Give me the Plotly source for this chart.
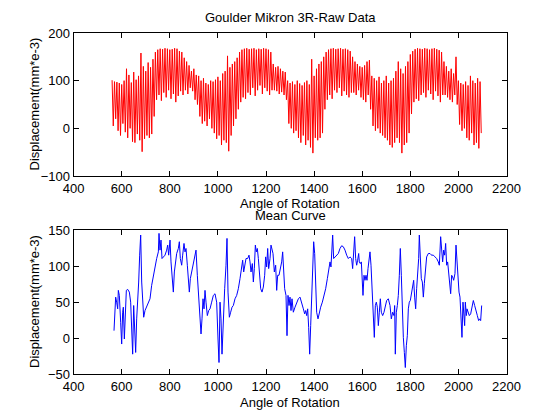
import plotly.graph_objects as go

# ---------------- data ----------------
raw_angle_start = 560
raw_angle_step = 5
raw_peaks = [
    101, 98, 97, 95, 92, 100, 125, 112, 96, 118, 102, 110,
    158,
    130, 120, 138, 128, 145,
    160, 165, 167, 166, 168, 167, 165, 166, 168, 167, 162, 160,
    148, 140, 132, 120, 125, 112,
    110, 100, 105, 95, 92, 100,
    98, 102, 108, 100, 115, 120, 152, 128, 135, 140, 148,
    160, 165, 167, 168, 166, 167, 168, 165, 167, 166, 168, 167, 165, 160,
    135, 128, 130, 125, 120, 118,
    100, 95, 98, 92, 100, 94, 90, 96, 100, 92, 145, 110, 125, 135, 140,
    150, 160, 165, 167, 168, 166, 167, 168, 166, 167, 165, 162,
    150, 140, 135, 130, 128, 132, 140,
    143, 110, 105, 100, 108, 95, 100, 110, 95, 100, 105, 120, 140, 125, 115, 130, 140,
    155, 162, 166, 168, 167, 166, 168, 167, 165, 167, 168, 166, 164, 160,
    140, 130, 120, 125, 115, 150,
    100, 95, 92, 98, 90, 110, 100, 95, 105, 98,
]
raw_troughs = [
    5, 20, -5, -15, 10, -8, -20, 0, -28, -30, -12, -25,
    -49,
    -22, -15, -20, -12, 25,
    60, 70, 58, 75, 65, 80, 62, 72, 55, 68, 78, 70,
    80, 72, 85, 78, 60, 50,
    25, 10, 15, 5, 20, 0,
    -10, -22, -15, -35, -25, -30, -48, -15, 5, 20, 40,
    55, 65, 62, 75, 70, 85, 68, 80, 90, 72, 85, 78, 70, 80,
    80, 78, 72, 76, 70, 60,
    10, 0, -10, -5, -20, -30, -15, -35, -25, -40, -52, -20, -25, -20, -10,
    40, 60, 70, 62, 80, 75, 85, 68, 78, 70, 65, 75,
    75, 70, 80, 65, 60, 55, 70,
    40, 5, -5, 0, -10, -15, -20, -25, -35, -40, -30, -20, -30, -52, -35, -30, -10,
    30, 55, 62, 58, 70, 75, 65, 80, 72, 60, 78, 68, 55, 70,
    70, 65, 60, 55, 70, 50,
    8, -5, 0, -20, -25, -10, -35, -30, -42, -10,
]

mean_angle = [
    568.0, 572.2, 574.9, 579.1, 583.3, 586.0, 590.2, 595.7, 599.9, 604.0,
    606.8, 611.0, 615.1, 619.3, 624.8, 631.8, 637.3, 641.5, 645.6, 649.8,
    653.9, 658.1, 662.3, 666.4, 670.6, 674.7, 678.9, 683.1, 687.2, 691.4,
    696.9, 703.8, 710.8, 717.7, 724.6, 731.6, 738.5, 745.4, 752.4, 755.1,
    759.3, 763.4, 767.6, 773.1, 780.1, 787.0, 791.2, 795.3, 800.9, 805.0,
    809.2, 814.7, 818.9, 823.0, 828.6, 835.5, 839.7, 843.8, 849.4, 853.5,
    859.1, 863.2, 867.4, 872.9, 877.1, 881.2, 885.4, 890.9, 897.9, 904.8,
    909.0, 914.5, 920.1, 925.6, 929.8, 933.9, 938.1, 942.2, 946.4, 950.5,
    956.1, 961.6, 967.2, 974.1, 981.0, 988.0, 994.9, 1000.4, 1004.6, 1008.8,
    1012.9, 1017.1, 1022.6, 1028.2, 1033.7, 1037.9, 1042.0, 1047.6, 1053.1, 1058.7,
    1064.2, 1071.1, 1078.1, 1085.0, 1091.9, 1098.9, 1103.0, 1107.2, 1111.3, 1116.9,
    1123.8, 1129.3, 1133.5, 1137.7, 1143.2, 1147.4, 1151.5, 1155.7, 1159.8, 1164.0,
    1168.2, 1172.3, 1177.9, 1183.4, 1188.9, 1194.5, 1198.6, 1202.8, 1207.0, 1211.1,
    1216.7, 1220.8, 1225.0, 1229.1, 1234.7, 1240.2, 1244.4, 1248.5, 1254.1, 1259.6,
    1265.2, 1269.3, 1273.5, 1277.6, 1283.2, 1287.3, 1291.5, 1295.7, 1299.8, 1304.0,
    1308.1, 1313.7, 1320.6, 1327.5, 1334.5, 1341.4, 1348.3, 1355.3, 1360.8, 1365.0,
    1369.1, 1373.3, 1377.4, 1381.6, 1385.8, 1389.9, 1394.1, 1398.2, 1402.4, 1406.5,
    1410.7, 1416.2, 1421.8, 1427.3, 1434.3, 1441.2, 1448.1, 1455.1, 1460.6,
    1466.1, 1470.2, 1474.4, 1477.2, 1481.3, 1486.9, 1493.8, 1500.7, 1507.7, 1514.6,
    1521.5, 1528.5, 1535.4, 1542.3, 1549.2, 1556.2, 1560.3, 1564.5, 1568.6, 1572.8,
    1577.0, 1581.1, 1585.3, 1588.0, 1592.2, 1596.4, 1599.1, 1603.3, 1607.5, 1611.6,
    1615.8, 1619.9, 1624.1, 1628.2, 1632.4, 1636.6, 1642.1, 1646.3, 1650.4, 1654.6,
    1658.7, 1662.9, 1667.1, 1671.2, 1675.4, 1679.5, 1685.1, 1690.6, 1696.2, 1701.7,
    1708.6, 1715.6, 1721.1, 1726.6, 1732.2, 1735.0, 1737.7, 1741.9, 1746.1, 1750.2,
    1754.4, 1758.5, 1762.7, 1766.8, 1771.0, 1775.2, 1779.3, 1783.5, 1787.6, 1791.8,
    1795.9, 1800.1, 1804.3, 1809.8, 1814.0, 1818.1, 1822.3, 1826.4, 1830.6, 1834.8,
    1837.5, 1841.7, 1845.8, 1850.0, 1854.2, 1858.3, 1862.5, 1868.0, 1875.0, 1881.9,
    1888.8, 1895.7, 1902.7, 1909.6, 1916.5, 1920.7, 1926.2, 1930.4, 1934.5, 1938.7,
    1942.9, 1947.0, 1951.2, 1955.3, 1959.5, 1963.7, 1967.8, 1972.0, 1976.1, 1980.3,
    1985.8, 1990.0, 1994.1, 1998.3, 2002.5, 2006.6, 2010.8, 2014.9, 2019.1, 2023.3,
    2026.0, 2028.8, 2033.0, 2035.7, 2039.9, 2045.4, 2051.0, 2056.5, 2062.1, 2067.6,
    2073.1, 2078.7, 2084.2, 2088.4, 2092.6, 2096.7,
]
mean_value = [
    10.3, 33.7, 57.0, 50.0, 40.7, 66.4, 59.4, 22.0, -8.3, 36.0,
    43.0, -1.3, 45.3, 66.4, 67.8, 64.0, 50.0, 8.0, -22.4, 45.3,
    8.0, -20.0, 26.7, 50.0, 78.0, 115.4, 143.4, 78.0, 43.0, 29.0,
    38.3, 43.0, 47.7, 54.7, 73.4, 87.4, 96.7, 110.7, 120.0, 145.7,
    122.4, 136.4, 110.7, 113.0, 115.4, 122.4, 129.4, 115.4, 136.4, 106.0,
    82.7, 64.0, 92.0, 106.0, 117.7, 124.7, 134.1, 110.7, 101.4, 115.4,
    131.7, 120.0, 124.7, 101.4, 87.4, 64.0, 82.7, 92.0, 101.4, 110.7,
    122.4, 87.4, 57.0, 36.0, 5.7, 26.7, 54.7, 40.7, 66.4, 50.0,
    31.3, 38.3, 40.7, 50.0, 59.4, 61.7, 50.0, -1.3, -34.0, 50.0,
    26.7, -22.4, 36.0, 68.7, 101.4, 138.7, 64.0, 29.0, 36.0, 43.0,
    45.3, 54.7, 59.4, 68.7, 82.7, 96.7, 108.4, 92.0, 99.0, 110.7,
    110.7, 115.4, 106.0, 92.0, 103.7, 78.0, 96.7, 129.4, 120.0, 124.7,
    110.7, 94.4, 68.7, 64.0, 71.0, 87.4, 113.0, 99.0, 124.7, 96.7,
    110.7, 129.4, 120.0, 117.7, 92.0, 101.4, 66.4, 87.4, 87.4, 96.7,
    106.0, 120.0, 96.7, 68.7, 59.4, 3.3, 59.4, 45.3, 57.0, 38.3,
    54.7, 36.0, 43.0, 50.0, 54.7, 57.0, 50.0, 40.7, 33.7, 38.3,
    31.3, 40.7, 15.0, -22.4, 17.3, 54.7, 96.7, 134.1, 117.7, 54.7,
    36.0, 26.7, 36.0, 43.0, 50.0, 59.4, 68.7, 82.7, 96.7,
    106.0, 99.0, 129.4, 143.4, 110.7, 113.0, 115.4, 117.7, 124.7, 128.5,
    127.1, 122.4, 115.4, 110.7, 113.0, 110.7, 96.7, 129.4, 141.1, 110.7,
    101.4, 108.4, 117.7, 106.0, 103.7, 106.0, 80.4, 59.4, 87.4, 80.4,
    87.4, 80.4, 96.7, 106.0, 120.0, 101.4, 59.4, 40.7, 1.0, 45.3,
    50.0, 43.0, 17.3, 36.0, 54.7, 36.0, 31.3, 36.0, 45.3, 52.3,
    54.7, 45.3, 26.7, 36.0, 31.3, 45.3, -22.4, 36.0, 45.3, 59.4,
    87.4, 124.7, 87.4, 36.0, 1.0, -20.0, -41.0, -10.7, 3.3, 40.7,
    50.0, 52.3, 59.4, 68.7, 80.4, 57.0, 40.7, 68.7, 87.4, 110.7,
    143.4, 106.0, 82.7, 78.0, 57.0, 75.7, 96.7, 113.0, 117.7, 117.7,
    115.4, 115.4, 113.0, 110.7, 106.0, 101.4, 141.1, 120.0, 106.0, 122.4,
    115.4, 131.7, 101.4, 106.0, 92.0, 78.0, 61.7, 87.4, 85.0, 80.4,
    89.7, 129.4, 101.4, 85.0, 64.0, 57.0, 36.0, 1.0, 50.0, 22.0,
    17.3, 50.0, 31.3, 40.7, 36.0, 31.3, 33.7, 43.0, 52.3, 45.3,
    36.0, 31.3, 24.3, 26.7, 24.3, 45.3,
]

x_ticks = [400, 600, 800, 1000, 1200, 1400, 1600, 1800, 2000, 2200]
top_y_ticks = [-100, 0, 100, 200]
bottom_y_ticks = [-50, 0, 50, 100, 150]

top_title = "Goulder Mikron 3R-Raw Data"
bottom_title = "Mean Curve"
x_label = "Angle of Rotation"
y_label = "Displacement(mm*e-3)"

# ---------------- build raw series ----------------
raw_x, raw_y = [], []
for i, (p, t) in enumerate(zip(raw_peaks, raw_troughs)):
    raw_x.append(raw_angle_start + raw_angle_step * (2 * i))
    raw_y.append(p)
    raw_x.append(raw_angle_start + raw_angle_step * (2 * i + 1))
    raw_y.append(t)

# ---------------- layout helpers (page has an 8px body offset) ----------------
W, H, OFF = 560, 420, 8


def px(xp):
    return (xp - OFF) / W


def py(yp):
    return 1 - (yp - OFF) / H


FONT = "Liberation Sans, Arial, sans-serif"
FS = 13

fig = go.Figure()
fig.add_trace(go.Scatter(x=raw_x, y=raw_y, mode="lines",
                         line=dict(color="#ff0000", width=1),
                         xaxis="x", yaxis="y", showlegend=False))
fig.add_trace(go.Scatter(x=mean_angle, y=mean_value, mode="lines",
                         line=dict(color="#0000ff", width=1),
                         xaxis="x2", yaxis="y2", showlegend=False))

x_dom = [px(73.6), px(506.5)]
axis_common = dict(showline=True, linecolor="black", linewidth=1, mirror="ticks",
                   ticks="inside", ticklen=5, tickcolor="black", tickwidth=1,
                   showgrid=False, zeroline=False, automargin=False,
                   tickfont=dict(family=FONT, size=FS, color="black"))

fig.update_layout(
    template="none",
    width=W, height=H,
    margin=dict(l=0, r=0, t=0, b=0, pad=0, autoexpand=False),
    paper_bgcolor="white", plot_bgcolor="white",
    xaxis=dict(domain=x_dom, range=[400, 2200], tickvals=x_ticks,
               anchor="y", **axis_common),
    yaxis=dict(domain=[py(176), py(33)], range=[-100, 200],
               tickvals=top_y_ticks, anchor="x", **axis_common),
    xaxis2=dict(domain=x_dom, range=[400, 2200], tickvals=x_ticks,
                anchor="y2", **axis_common),
    yaxis2=dict(domain=[py(374), py(230.3)], range=[-50, 150],
                tickvals=bottom_y_ticks, anchor="x2", **axis_common),
)

cx = (x_dom[0] + x_dom[1]) / 2
ann_font = dict(family=FONT, size=FS, color="black")


def label(text, x, y, angle=0):
    fig.add_annotation(text=text, x=x, y=y, xref="paper", yref="paper",
                       showarrow=False, font=ann_font, textangle=angle,
                       xanchor="center", yanchor="middle")


label(top_title, cx, py(17))
label(x_label, cx, py(203.5))
label(bottom_title, cx, py(215))
label(x_label, cx, py(402.5))
label(y_label, px(34), py(104.5), -90)
label(y_label, px(34), py(302), -90)

fig.write_html("out.html")
